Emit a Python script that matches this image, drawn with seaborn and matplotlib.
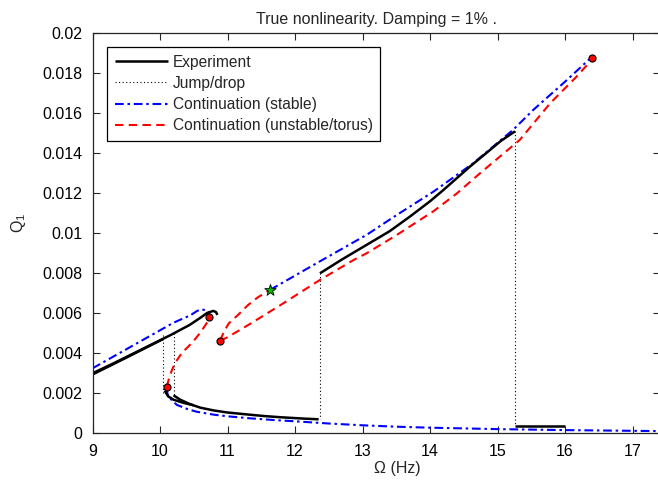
import numpy as np
import pandas as pd
import seaborn as sns
import matplotlib
matplotlib.use("Agg")
import matplotlib.pyplot as plt
from matplotlib.lines import Line2D

# ---------------- data ----------------
# Experiment (black solid)
exp1_x = [9.0, 9.3, 9.6, 9.85, 10.15, 10.44, 10.6, 10.7, 10.79, 10.83, 10.85]
exp1_y = [0.0030, 0.00348, 0.00398, 0.0044, 0.0049, 0.00542, 0.00578, 0.00602, 0.00612, 0.00606, 0.00592]
exp2_x = [9.0, 9.5, 10.05]
exp2_y = [0.00294, 0.00378, 0.00472]
exp3_x = [10.2, 10.3, 10.45, 10.6, 10.8, 11.0, 11.3, 11.55, 11.8, 12.1, 12.35]
exp3_y = [0.0019, 0.00168, 0.00145, 0.00128, 0.00114, 0.00104, 0.00094, 0.00086, 0.0008, 0.00074, 0.0007]
exp4_x = [10.07, 10.12, 10.2, 10.35, 10.5]
exp4_y = [0.00213, 0.00185, 0.00168, 0.00152, 0.0014]
exp5_x = [12.37, 12.7, 13.06, 13.4, 13.7, 14.0, 14.2, 14.59, 14.89, 15.05, 15.26]
exp5_y = [0.0080, 0.0087, 0.00942, 0.0101, 0.01083, 0.0116, 0.01217, 0.01333, 0.01417, 0.01462, 0.0151]
exp6_x = [15.26, 16.0]
exp6_y = [0.00038, 0.00038]

# Jump/drop (dotted verticals): x, y_top, y_bottom
jump_x = [10.05, 10.21, 12.37, 15.26]
jump_top = [0.0049, 0.0050, 0.0080, 0.0151]
jump_bot = [0.0020, 0.0019, 0.0007, 0.00038]

# Continuation (stable) - blue dash-dot
stab1_x = [9.0, 9.3, 9.6, 9.9, 10.2, 10.45, 10.55, 10.62, 10.69, 10.73, 10.73]
stab1_y = [0.00325, 0.00382, 0.00439, 0.00496, 0.00553, 0.0059, 0.00612, 0.0062, 0.00613, 0.006, 0.00583]
stab2_x = [10.1, 10.11, 10.17, 10.25, 10.4, 10.54, 10.8, 11.0, 11.33, 11.7, 12.0, 12.5, 13.0, 13.5, 14.0, 15.0, 16.0, 17.4]
stab2_y = [0.00233, 0.00197, 0.00167, 0.00142, 0.00122, 0.00108, 0.00093, 0.00085, 0.00075, 0.00066, 0.0006,
           0.00049, 0.0004, 0.00033, 0.00028, 0.00021, 0.00016, 0.00011]
stab3_x = [11.63, 12.07, 12.37, 13.06, 13.5, 14.05, 14.64, 15.23, 15.53, 16.03, 16.35, 16.4]
stab3_y = [0.00717, 0.00802, 0.0086, 0.00992, 0.0109, 0.01208, 0.0135, 0.01517, 0.01617, 0.01767, 0.01867, 0.01875]

# Continuation (unstable/torus) - red dashed
uns1_x = [10.1, 10.13, 10.17, 10.22, 10.32, 10.49, 10.6, 10.67, 10.71, 10.73]
uns1_y = [0.00233, 0.0027, 0.0031, 0.0035, 0.0040, 0.00458, 0.00505, 0.0054, 0.0056, 0.00583]
uns2_x = [10.89, 10.95, 11.02, 11.15, 11.3, 11.45, 11.63]
uns2_y = [0.00463, 0.0051, 0.0055, 0.0059, 0.0064, 0.0068, 0.00717]
uns3_x = [10.89, 11.0, 11.15, 11.3, 11.78, 12.37, 12.86, 13.06, 13.5, 14.05, 14.4, 14.74, 15.33, 15.78, 16.17,
          16.35, 16.4]
uns3_y = [0.00463, 0.0048, 0.0051, 0.0054, 0.0064, 0.00767, 0.00865, 0.0090, 0.0099, 0.0111, 0.0120, 0.0130,
          0.01467, 0.0165, 0.01783, 0.0185, 0.01875]

# Bifurcation markers
fold_x = [10.1, 10.73, 10.89, 16.4]
fold_y = [0.00233, 0.00583, 0.00463, 0.01875]
torus_x = [11.63]
torus_y = [0.00717]

x_ticks = [9, 10, 11, 12, 13, 14, 15, 16, 17]
y_ticks = [0, 0.002, 0.004, 0.006, 0.008, 0.01, 0.012, 0.014, 0.016, 0.018, 0.02]
y_tick_labels = ["0", "0.002", "0.004", "0.006", "0.008", "0.01", "0.012", "0.014", "0.016", "0.018", "0.02"]

# ---------------- styling ----------------
sns.set_style("ticks")
plt.rcParams["font.family"] = ["Liberation Sans", "DejaVu Sans"]
plt.rcParams["font.size"] = 11.5
plt.rcParams["mathtext.fontset"] = "custom"
plt.rcParams["mathtext.rm"] = "Liberation Sans"

fig = plt.figure(figsize=(6.58, 4.86), dpi=100)
ax = fig.add_axes([92.5 / 658, 52.7 / 486, 567 / 658, 400 / 486])

EXP_KW = dict(color="black", lw=1.8, solid_capstyle="butt")
JUMP_KW = dict(color="black", lw=0.8, linestyle=(0, (1, 2.2)))
STAB_KW = dict(color="#0000ff", lw=1.5, linestyle=(0, (4.2, 1.8, 1.2, 1.8)))
UNS_KW = dict(color="#ff0000", lw=1.5, linestyle=(0, (4, 2.6)))


def draw(xs, ys, kw):
    df = pd.DataFrame({"x": xs, "y": ys})
    sns.lineplot(data=df, x="x", y="y", sort=False, estimator=None, ax=ax, legend=False, **kw)


# jumps
for jx, jt, jb in zip(jump_x, jump_top, jump_bot):
    draw([jx, jx], [jt, jb], JUMP_KW)

# continuation
for xs, ys in [(stab1_x, stab1_y), (stab2_x, stab2_y), (stab3_x, stab3_y)]:
    draw(xs, ys, STAB_KW)
for xs, ys in [(uns1_x, uns1_y), (uns2_x, uns2_y), (uns3_x, uns3_y)]:
    draw(xs, ys, UNS_KW)

# experiment
for xs, ys in [(exp1_x, exp1_y), (exp2_x, exp2_y), (exp3_x, exp3_y), (exp4_x, exp4_y),
               (exp5_x, exp5_y), (exp6_x, exp6_y)]:
    draw(xs, ys, EXP_KW)

# markers
sns.scatterplot(x=fold_x, y=fold_y, ax=ax, marker="o", s=26, color="#ff0000",
                edgecolor="black", linewidth=0.8, zorder=5, legend=False)
sns.scatterplot(x=torus_x, y=torus_y, ax=ax, marker="*", s=75, color="#00c000",
                edgecolor="black", linewidth=0.6, zorder=5, legend=False)

ax.set_xlim(9, 17.4)
ax.set_ylim(0, 0.02)
ax.set_xticks(x_ticks)
ax.set_xticklabels([str(t) for t in x_ticks])
ax.set_yticks(y_ticks)
ax.set_yticklabels(y_tick_labels)

spine_col = "#262626"
for s in ax.spines.values():
    s.set_visible(True)
    s.set_color(spine_col)
    s.set_linewidth(0.9)
ax.tick_params(direction="in", length=5, width=0.8, color=spine_col, top=True, right=True,
               labelsize=11.5, labelcolor="black", pad=7.5)

ax.set_xlabel("Ω (Hz)", fontsize=11.5)
ax.xaxis.set_label_coords((397 - 92.5) / 567, (433.3 - 461) / 400)
ax.set_ylabel(r"Q$_\mathregular{1}$", fontsize=11.5)
ax.yaxis.set_label_coords((28 - 92.5) / 567, (433.3 - 223) / 400)
ax.set_title("True nonlinearity. Damping = 1% .", fontsize=11.5, pad=7)

handles = [
    Line2D([], [], **EXP_KW),
    Line2D([], [], **JUMP_KW),
    Line2D([], [], **STAB_KW),
    Line2D([], [], **UNS_KW),
]
labels = ["Experiment", "Jump/drop", "Continuation (stable)", "Continuation (unstable/torus)"]
leg = ax.legend(handles, labels, loc="upper left", bbox_to_anchor=(0.0256, 0.966), borderaxespad=0,
                fontsize=11.2, handlelength=3.4, handletextpad=0.32, labelspacing=0.4,
                fancybox=False, framealpha=1, edgecolor="black", borderpad=0.5)
leg.get_frame().set_linewidth(0.9)

fig.savefig("out.png", dpi=100)
